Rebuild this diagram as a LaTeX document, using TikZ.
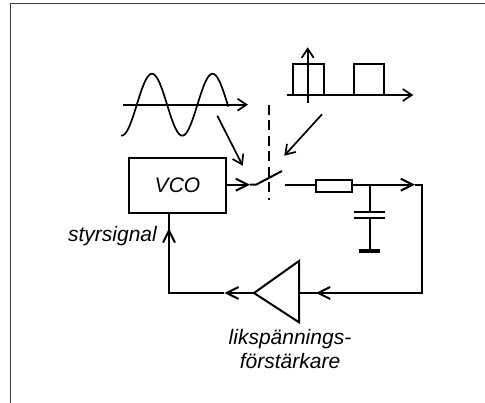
\documentclass[tikz,border=0pt]{standalone}
\usepackage{fontspec}
\setmainfont{Liberation Sans}
\usepackage{tikz}
\usetikzlibrary{arrows, arrows.meta}
\newcommand{\lbl}{\fontsize{21}{22}\selectfont\itshape}
\tikzset{
	wire/.style={line width=2pt, line join=miter},
	sig/.style={wire, >={Straight Barb[length=12pt,width=12pt,line width=2pt]}, ->},
	plotaxis/.style={line width=1.7pt, >={Straight Barb[length=9pt,width=12pt,line width=1.7pt]}, ->},
	curve/.style={line width=1.7pt},
	txt/.style={inner sep=0pt, font=\lbl},
	box/.style={draw, wire, inner sep=0pt, fill=white}
}
\begin{document}
\begin{tikzpicture}[x=1pt, y=-1pt]
		\useasboundingbox (0,0) rectangle (485,403);
		
		\draw[line width=1.7pt, black!75] (10.5,403) -- (10.5,3.5) -- (485,3.5);
		
		% nodes
		\node[box, minimum width=96.7pt, minimum height=54.7pt] (vco) at (177.4,185.3) {};
		\node[txt] (vcotext) at (177.5,185) {VCO};
		\node[box, minimum width=36pt, minimum height=12.5pt] (res) at (333.7,186) {};
		\node[txt, anchor=east] (styr) at (157,236) {styrsignal};
		\node[txt] (liks) at (290,339) {likspännings-};
		\node[txt] (forst) at (290,361) {förstärkare};
		
		\coordinate (vcotip) at (250,184.7);
		\coordinate (swa) at (256,184.7);
		\coordinate (swb) at (282,171);
		\coordinate (swc) at (285,184.7);
		\coordinate (junc) at (370,184.7);
		\coordinate (outtip) at (415,184.7);
		\coordinate (corner) at (421.7,184.7);
		\coordinate (cornerb) at (421.7,293);
		\coordinate (amptip) at (254,293);
		\coordinate (ampin) at (299,293);
		\coordinate (amptop) at (299,261);
		\coordinate (ampbot) at (299,322.3);
		\coordinate (intip) at (316,293);
		\coordinate (backtip) at (224.3,293);
		\coordinate (cornerc) at (169,293);
		\coordinate (uptip) at (169,228.3);
		\coordinate (vcoin) at (169,212.7);
		\coordinate (capa) at (370,211.7);
		\coordinate (capb) at (370,218.3);
		\coordinate (gnd) at (370,251.3);
		
		% signal chain
		\draw[sig] (vco.east |- vcotip) -- (vcotip);
		\draw[wire] (vcotip) -- (swa) -- (swb);
		\draw[wire] (swc) -- (res.west |- swc);
		\draw[wire] (res.east |- junc) -- (junc);
		\draw[sig] (junc) -- (outtip);
		\draw[wire] (outtip) -- (corner) -- (cornerb) -- (intip);
		\draw[sig] (cornerb) -- (intip);
		\draw[wire] (intip) -- (ampin);
		\draw[wire] (amptip) -- (amptop) -- (ampbot) -- cycle;
		\draw[sig] (amptip) -- (backtip);
		\draw[wire] (backtip) -- (cornerc) -- (uptip);
		\draw[sig] (cornerc) -- (uptip);
		\draw[wire] (uptip) -- (vcoin);
		
		% capacitor
		\draw[wire] (junc) -- (capa);
		\draw[wire] (354,211.7) -- (385.3,211.7);
		\draw[wire] (354,218.3) -- (385.3,218.3);
		\draw[wire] (capb) -- (gnd);
		\draw[line width=4pt] (358.7,251.3) -- (380,251.3);
		
		% switch control
		\draw[curve, dash pattern=on 10pt off 5.5pt] (268.7,105) -- (268.7,200);
		\draw[plotaxis] (217.3,115.7) -- (242.7,165.7);
		\draw[plotaxis] (322,114.3) -- (284.3,155.7);
		
		% sine
		\draw[plotaxis] (123.3,104.7) -- (248,104.7);
		\draw[curve, smooth, domain=121:228.3, samples=60] plot (\x, {104.7-31*sin(5.94*(\x-136.8))});
		
		% pulses
		\draw[plotaxis] (287.3,95) -- (413.3,95);
		\draw[plotaxis] (307.7,103.3) -- (307.7,47.3);
		\draw[curve] (293.3,95) -- (293.3,64.3) -- (323.7,64.3) -- (323.7,95);
		\draw[curve] (353.7,95) -- (353.7,64.3) -- (384.3,64.3) -- (384.3,95);
		\draw[curve] (323.7,95) -- (353.7,95);
	\end{tikzpicture}
\end{document}
